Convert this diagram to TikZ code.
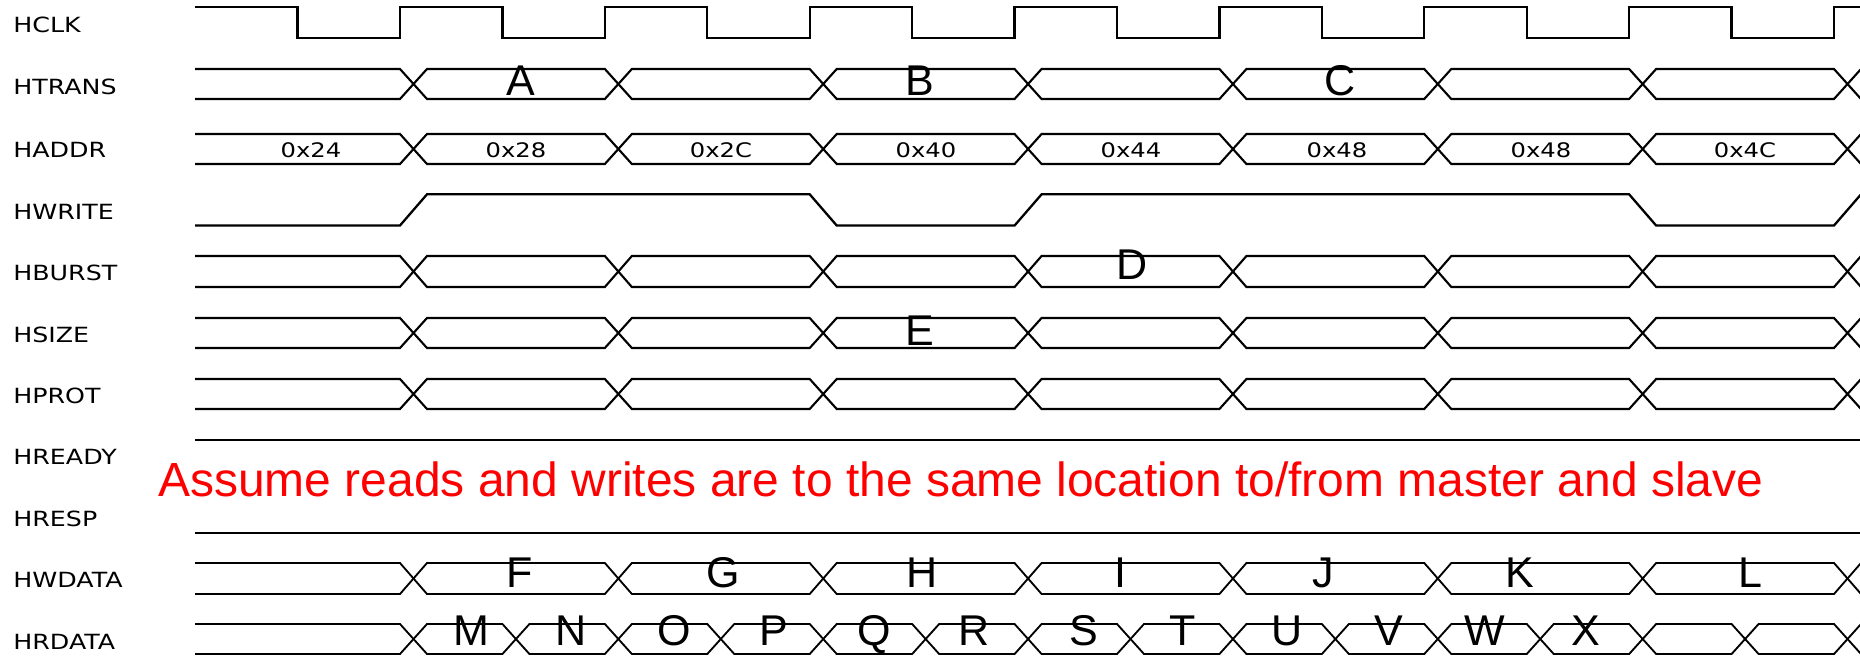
\documentclass[tikz,border=0pt]{standalone}
\usepackage{fontspec}
\setmainfont{Liberation Sans}
\newfontfamily\labelfont{DejaVu Sans}
\newfontfamily\arialfont{Liberation Sans}
\usepackage{xcolor}
\definecolor{cWave}{HTML}{000000}
\definecolor{cNote}{HTML}{FF0000}
\usepackage{tikz}
\usetikzlibrary{positioning}
\tikzset{
  sig-label/.style={anchor=west,inner sep=0pt,
    font=\labelfont\fontsize{11.9}{14}\selectfont},
  addr-val/.style={anchor=base,inner sep=0pt,
    font=\labelfont\fontsize{11.4}{13}\selectfont},
  mark-letter/.style={anchor=base,inner sep=0pt,
    font=\arialfont\fontsize{24.5}{28}\selectfont},
  note-text/.style={anchor=base west,inner sep=0pt,text=cNote,
    font=\arialfont\fontsize{27.3}{31}\selectfont},
  % one unit = one pixel of the 1860x656 sheet
  wave-line/.style={draw=cWave,line width=1.3pt,line join=miter},
  bus-line/.style={draw=cWave,line width=1.2pt,line join=miter},
  data-line/.style={draw=cWave,line width=1.05pt,line join=miter},
}
\newcommand{\widetxt}[1]{\scalebox{1.21}[1]{#1}}
% bus row: #1 top, #2 bottom, #3 step, #4 last segment, #5 style
\newcommand{\busrow}[5]{%
  \draw[#5] (195,#1) -- (400,#1) -- (413.5,{(#1+#2)/2}) -- (400,#2) -- (195,#2);
  \foreach \k in {0,...,#4}{
    \pgfmathsetmacro{\xa}{400+#3*\k}
    \pgfmathsetmacro{\xb}{\xa+#3}
    \draw[#5] (\xa+13.5,{(#1+#2)/2}) -- (\xa+27,#1) -- (\xb,#1)
      -- (\xb+13.5,{(#1+#2)/2}) -- (\xb,#2) -- (\xa+27,#2) -- cycle;
  }
}

\begin{document}
\begin{tikzpicture}[x=0.02cm,y=-0.02cm]
  \useasboundingbox (0,0) rectangle (1860,656);
  \clip (0,0) rectangle (1860,656);

  \foreach \name/\yy in {HCLK/24.5,HTRANS/86.5,HADDR/150,HWRITE/211.5,
      HBURST/273,HSIZE/335,HPROT/395.5,HREADY/457,HRESP/519,
      HWDATA/579.5,HRDATA/641.5}
    \node[sig-label] (lbl\name) at (13,\yy) {\widetxt{\name}};

  % clock
  \draw[wave-line] (195,7.3) foreach \k in {0,...,7}{
      -- (297.6+204.857*\k,7.3) -- (297.6+204.857*\k,37.7)
      -- (400+204.857*\k,37.7) -- (400+204.857*\k,7.3)} -- (1870,7.3);

  \busrow{69}{99}{204.857}{7}{bus-line}
  \busrow{134}{164}{204.857}{7}{bus-line}
  \draw[wave-line] (195,225.5) -- (400,225.5) -- (427,194.3) -- (809.7,194.3)
    -- (836.7,225.5) -- (1014.6,225.5) -- (1041.6,194.3) -- (1629.1,194.3)
    -- (1656.1,225.5) -- (1834,225.5) -- (1861,194.3) -- (1875,194.3);
  \busrow{256}{287}{204.857}{7}{bus-line}
  \busrow{318}{348}{204.857}{7}{bus-line}
  \busrow{379}{409}{204.857}{7}{bus-line}
  \draw[data-line] (195,440) -- (1870,440);
  \draw[wave-line] (195,533) -- (1870,533);
  \busrow{563}{594}{204.857}{7}{data-line}
  \busrow{624}{654}{102.43}{14}{data-line}

  \foreach \val/\xx in {0x24/311,0x28/516,0x2C/721,0x40/926,0x44/1131,
      0x48/1337,0x48/1541,0x4C/1745}
    \node[addr-val] (addr\xx) at (\xx,157) {\widetxt{\val}};

  \node[mark-letter] (mA) at (521,95) {A};
  \node[mark-letter] (mB) at (920,95) {B};
  \node[mark-letter] (mC) at (1340,95) {C};
  \node[mark-letter] (mD) at (1132,279) {D};
  \node[mark-letter] (mE) at (919.5,345) {E};
  \foreach \ltr/\xx in {F/520,G/723,H/922,I/1120,J/1323,K/1520,L/1750}
    \node[mark-letter] (m\ltr) at (\xx,587) {\ltr};
  \foreach \ltr/\xx in {M/471,N/571,O/674,P/774,Q/874,R/974,
      S/1084,T/1183,U/1287,V/1389,W/1485,X/1586}
    \node[mark-letter] (m\ltr) at (\xx,645) {\ltr};

  \node[note-text] (note) at (158,496.6)
    {Assume reads and writes are to the same location to/from master and slave};
\end{tikzpicture}
\end{document}
